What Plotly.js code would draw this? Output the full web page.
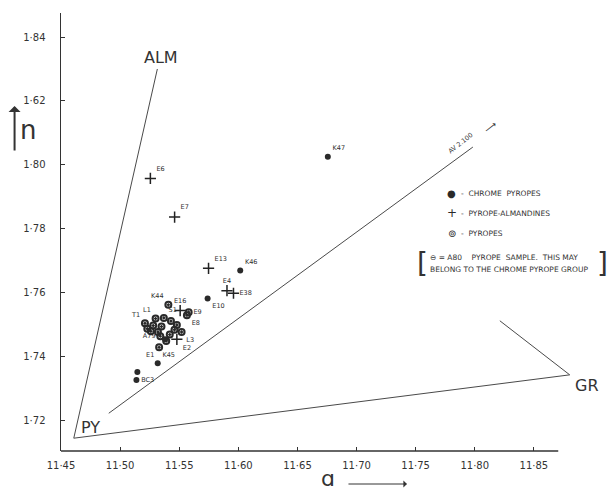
<!DOCTYPE html>
<html><head><meta charset="utf-8">
<script src="https://cdn.plot.ly/plotly-3.0.1.min.js"></script>
<style>html,body{margin:0;padding:0;background:#fff}#c{width:611px;height:494px}</style>
</head><body><div id="c"></div>
<script>
// ---- data (cell edge a, refractive index n) ----
const chromeNames = ["K47","K46","E10","K45","","BC3"];
const chromeA = [11.6757,11.6016,11.5740,11.5318,11.5146,11.5138];
const chromeN = [1.8026,1.7670,1.7583,1.7380,1.7353,1.7328];

const almNames = ["E6","E7","E13","E4","E38","E16","E2"];
const almA = [11.5256,11.5461,11.5748,11.5904,11.5959,11.5508,11.5480];
const almN = [1.7958,1.7837,1.7677,1.7607,1.7599,1.7545,1.7455];

const pyNames = ["K44","E9","E8","L1","S1","T1","","","","","","L3","A79","E1","","","","",""];
const pyA = [11.5408,11.5580,11.5565,11.5300,11.5370,11.5210,11.5280,11.5350,11.5430,11.5480,11.5260,11.5520,11.5340,11.5330,11.5320,11.5420,11.5230,11.5390,11.5460];
const pyN = [1.7563,1.7540,1.7530,1.7520,1.7522,1.7505,1.7498,1.7495,1.7512,1.7500,1.7480,1.7478,1.7465,1.7430,1.7478,1.7470,1.7488,1.7450,1.7485];

const a80A = [11.5380]; const a80N = [1.7455];

// diagram lines: end-members and reference lines
const pyV = [11.4608,1.7146], almV = [11.5315,1.8300], grV = [11.8803,1.7344];
const midLineA = [11.4904,11.7984], midLineN = [1.7224,1.8056];
const grArmA = [11.8212,11.8803], grArmN = [1.7513,1.7344];

const xTicks = [11.45,11.50,11.55,11.60,11.65,11.70,11.75,11.80,11.85];
const xTickText = ["11·45","11·50","11·55","11·60","11·65","11·70","11·75","11·80","11·85"];
const yTicks = [1.72,1.74,1.76,1.78,1.80,1.82,1.84];
const yTickText = ["1·72","1·74","1·76","1·78","1·80","1·62","1·84"];
const legendSymbols = ["●","+","⊚"];
const legendLabels = ["-  CHROME  PYROPES","-  PYROPE-ALMANDINES","-  PYROPES"];
const noteLines = ["⊖ = A80    PYROPE  SAMPLE.  THIS MAY","BELONG TO THE CHROME PYROPE GROUP"];

const LC = '#4a4a4a';
const TXT = '#2e2e2e';
const lineStyle = {color: LC, width: 1};
const labFont = {size:6.5, color:TXT, family:'DejaVu Sans'};
const chromePos = ["top right","top right","bottom right","top right","top right","middle right"];
const almPos = ["top right","top right","top right","top center","middle right","top center","bottom right"];
const pyPos = ["top left","middle right","bottom right","top left","top right","top left","top left","top left","top left","top left","top left","bottom right","middle left","bottom left","top left","top left","top left","top left","top left"];
const traces = [
  {x:[almV[0],pyV[0],grV[0]], y:[almV[1],pyV[1],grV[1]], mode:'lines', line:lineStyle, hoverinfo:'skip'},
  {x:midLineA, y:midLineN, mode:'lines', line:lineStyle, hoverinfo:'skip'},
  {x:grArmA, y:grArmN, mode:'lines', line:lineStyle, hoverinfo:'skip'},
  {x:chromeA, y:chromeN, text:chromeNames, mode:'markers+text', textposition:chromePos,
   marker:{symbol:'circle', size:6, color:'#2a2a2a'}, textfont:labFont, cliponaxis:false},
  {x:almA, y:almN, text:almNames, mode:'markers+text', textposition:almPos,
   marker:{symbol:'cross-thin-open', size:8, color:'#222', line:{width:1.5, color:'#222'}}, textfont:labFont, cliponaxis:false},
  {x:pyA, y:pyN, text:pyNames, mode:'markers+text', textposition:pyPos,
   marker:{symbol:'circle-open-dot', size:6, color:'#2a2a2a', line:{width:2}}, textfont:labFont, cliponaxis:false},
  {x:a80A, y:a80N, mode:'markers', marker:{symbol:'circle-x', size:6, color:'#2a2a2a'}}
];

const fontMain = 'DejaVu Sans';
const px2x = p => (p-60.5)/532.8, py2y = p => (451-p)/438;
const ann = (px,py,text,font,extra) => Object.assign({x:px2x(px), y:py2y(py), xref:'paper', yref:'paper', text:text,
  showarrow:false, xanchor:'center', yanchor:'middle', font:font}, extra||{});
const bigF = {size:16, color:'#333', family:fontMain};
const legF = {size:7.5, color:'#333', family:fontMain};
const symF = {size:10, color:'#2a2a2a', family:fontMain};
const layout = {
  width:611, height:494,
  margin:{l:60.5, r:17.7, t:13, b:43, pad:0},
  paper_bgcolor:'#fff', plot_bgcolor:'#fff',
  font:{family:fontMain, color:'#333'},
  showlegend:false,
  xaxis:{range:[11.45,11.90], tickvals:xTicks, ticktext:xTickText, ticks:'inside', ticklen:4, tickwidth:1, tickcolor:'#333',
         ticklabelstandoff:7, showgrid:false, zeroline:false, showline:false, tickfont:{size:10, color:'#333', family:fontMain}},
  yaxis:{range:[1.7106,1.8475], tickvals:yTicks, ticktext:yTickText, ticks:'inside', ticklen:4, tickwidth:1, tickcolor:'#333',
         ticklabelstandoff:12, showgrid:false, zeroline:false, showline:true, linecolor:'#333', linewidth:1.5, tickfont:{size:10, color:'#333', family:fontMain}},
  shapes:[
    {type:'line', xref:'x', yref:'paper', x0:11.45, x1:11.8706, y0:0, y1:0, line:{color:'#333', width:1.5}}
  ],
  annotations:[
    ann(161,58,'ALM',bigF),
    ann(90,427,'PY',bigF),
    ann(587,385,'GR',bigF),
    ann(461,143,'AV 2.100',{size:6.5, color:'#333', family:fontMain},{textangle:-38}),
    ann(491,127,'⟶',{size:9, color:'#333', family:fontMain},{textangle:-38}),
    ann(452,194,legendSymbols[0],symF),
    ann(452,213,legendSymbols[1],{size:12, color:'#2a2a2a', family:fontMain}),
    ann(452,233,legendSymbols[2],symF),
    ann(459,194,legendLabels[0],legF,{xanchor:'left'}),
    ann(459,213,legendLabels[1],legF,{xanchor:'left'}),
    ann(459,233,legendLabels[2],legF,{xanchor:'left'}),
    ann(428,257,noteLines[0],{size:7.5, color:'#333', family:fontMain},{xanchor:'left'}),
    ann(428,269,noteLines[1],{size:7.5, color:'#333', family:fontMain},{xanchor:'left'}),
    ann(423,263,'[',{size:28, color:'#333', family:fontMain}),
    ann(603,263,']',{size:28, color:'#333', family:fontMain}),
    ann(328,478,'ɑ',{size:22, color:'#333', family:fontMain}),
    {x:px2x(407), y:py2y(484), xref:'paper', yref:'paper', text:'', showarrow:true, ax:-60, ay:0, arrowhead:1, arrowsize:1.2, arrowwidth:1, arrowcolor:'#333'},
    ann(27,130,'n',{size:26, color:'#333', family:fontMain}),
    {x:px2x(14), y:py2y(106), xref:'paper', yref:'paper', text:'', showarrow:true, ax:0, ay:46, arrowhead:1, arrowsize:1, arrowwidth:2, arrowcolor:'#333'}
  ]
};
Plotly.newPlot('c', traces, layout, {displayModeBar:false, staticPlot:true});
</script></body></html>
